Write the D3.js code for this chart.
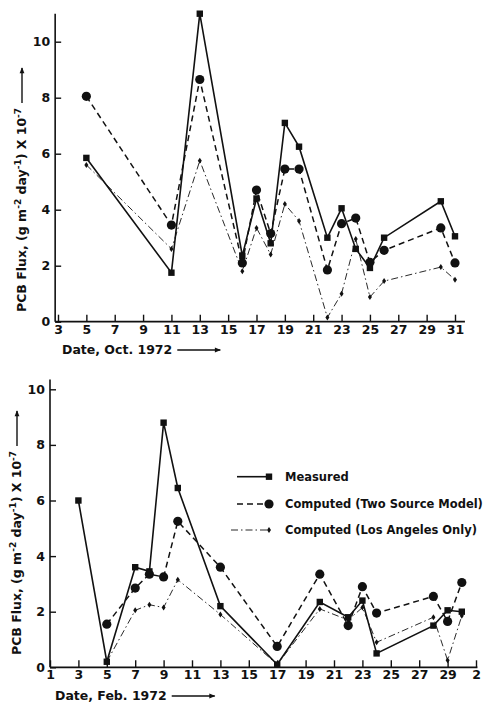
<!DOCTYPE html>
<html>
<head>
<meta charset="utf-8">
<script src="https://cdn.jsdelivr.net/npm/d3@7"></script>
<style>
  body { margin: 0; background: #fff; }
  svg { display: block; }
  .tick text { font-family: 'DejaVu Sans', sans-serif; font-size: 12.5px; font-weight: bold; fill: #111; }
  .tick line { stroke: #111; stroke-width: 1.4; }
  .lbl { font-family: 'DejaVu Sans', sans-serif; font-size: 12.5px; font-weight: bold; fill: #111; }
  .leg { font-family: 'DejaVu Sans', sans-serif; font-size: 11.5px; font-weight: bold; fill: #111; }
</style>
</head>
<body>
<div id="chart"></div>
<script>
// October 1972 data
const octDays = [5, 11, 13, 16, 17, 18, 19, 20, 22, 23, 24, 25, 26, 30, 31]
const octMeasured = [5.85, 1.75, 11.0, 2.35, 4.4, 2.8, 7.1, 6.25, 3.0, 4.05, 2.6, 1.92, 3.0, 4.3, 3.05]
const octTwoSource = [8.05, 3.45, 8.65, 2.1, 4.7, 3.15, 5.45, 5.45, 1.85, 3.5, 3.7, 2.12, 2.55, 3.35, 2.1]
const octLA = [5.6, 2.6, 5.75, 1.8, 3.35, 2.4, 4.2, 3.6, 0.15, 1.0, 2.95, 0.88, 1.45, 1.95, 1.5]
const octTicks = d3.range(3, 32, 2)

// February 1972 data (day 30 = Mar 1)
const febDays = [3, 5, 7, 8, 9, 10, 13, 17, 20, 22, 23, 24, 28, 29, 30]
const febMeasured = [6.0, 0.2, 3.6, 3.45, 8.8, 6.45, 2.2, 0.1, 2.35, 1.8, 2.4, 0.5, 1.5, 2.05, 2.0]
const febTwoSource = [null, 1.55, 2.85, 3.35, 3.25, 5.25, 3.6, 0.75, 3.35, 1.5, 2.9, 1.95, 2.55, 1.65, 3.05]
const febLA = [null, 0.2, 2.05, 2.25, 2.15, 3.15, 1.9, 0.1, 2.1, 1.7, 2.15, 0.9, 1.8, 0.25, 1.85]
const febTicks = d3.range(1, 32, 2)
const febTickLabels = ['1', '3', '5', '7', '9', '11', '13', '15', '17', '19', '21', '23', '25', '27', '29', '2']

const yTicks = [0, 2, 4, 6, 8, 10]
const legendLabels = ['Measured', 'Computed (Two Source Model)', 'Computed (Los Angeles Only)']

var width = 485, height = 703

var svg = d3.select('#chart')
    .append('svg')
        .attr('width', width)
        .attr('height', height)

svg.append('defs').append('marker')
    .attr('id', 'arrow')
    .attr('viewBox', '0 0 10 10')
    .attr('refX', 9).attr('refY', 5)
    .attr('markerWidth', 7).attr('markerHeight', 6)
    .attr('markerUnits', 'userSpaceOnUse')
    .attr('orient', 'auto')
    .append('path')
        .attr('d', 'M0,1 L10,5 L0,9 Z')
        .style('fill', '#111')

const styles = [
    {dash: null, width: 1.6, shape: 'square'},
    {dash: '6,4', width: 1.5, shape: 'circle'},
    {dash: '7,3,1.5,3', width: 0.9, shape: 'diamond'}
]

function drawMarker(g, shape, cx, cy){
    if(shape == 'square'){
        g.append('rect')
            .attr('x', cx - 3.2).attr('y', cy - 3.2)
            .attr('width', 6.4).attr('height', 6.4)
            .style('fill', '#111')
    } else if(shape == 'circle'){
        g.append('circle')
            .attr('cx', cx).attr('cy', cy).attr('r', 4.6)
            .style('fill', '#111')
    } else {
        g.append('path')
            .attr('d', 'M' + cx + ',' + (cy - 3) + 'L' + (cx + 2) + ',' + cy + 'L' + cx + ',' + (cy + 3) + 'L' + (cx - 2) + ',' + cy + 'Z')
            .style('fill', '#111')
    }
}

function drawPanel(opt){
    var x = d3.scaleLinear().domain(opt.xDomain).range(opt.xRange)
    var y = d3.scaleLinear().domain([0, 10]).range(opt.yRange)
    var g = svg.append('g')

    // axis lines
    g.append('line')
        .attr('x1', x(opt.xMin)).attr('x2', x(opt.xMin))
        .attr('y1', y(0)).attr('y2', y(opt.yTop))
        .style('stroke', '#111').style('stroke-width', 1.6)
    g.append('line')
        .attr('x1', x(opt.xMin)).attr('x2', x(opt.xMax))
        .attr('y1', y(0)).attr('y2', y(0))
        .style('stroke', '#111').style('stroke-width', 1.8)

    // y axis
    g.append('g')
        .attr('transform', 'translate(' + x(opt.xMin) + ',0)')
        .call(d3.axisLeft(y).tickValues(yTicks).tickSize(-6).tickPadding(5))
        .call(a => a.select('.domain').remove())

    // x axis
    g.append('g')
        .attr('transform', 'translate(0,' + y(0) + ')')
        .call(d3.axisBottom(x).tickValues(opt.ticks).tickSize(-7).tickPadding(3)
            .tickFormat((d, i) => opt.tickLabels ? opt.tickLabels[i] : d))
        .call(a => a.select('.domain').remove())

    // series
    opt.series.forEach(function(vals, k){
        var st = styles[k]
        var pts = opt.days.map((d, i) => [d, vals[i]]).filter(p => p[1] != null)
        g.append('path')
            .datum(pts)
            .attr('d', d3.line().x(p => x(p[0])).y(p => y(p[1])))
            .style('fill', 'none')
            .style('stroke', '#111')
            .style('stroke-width', st.width)
            .style('stroke-dasharray', st.dash)
        pts.forEach(p => drawMarker(g, st.shape, x(p[0]), y(p[1])))
    })

    // x axis title
    var xt = g.append('text')
        .classed('lbl', true)
        .attr('x', opt.xTitleX)
        .attr('y', opt.xTitleY)
        .text(opt.xTitle)
    var xl = xt.node().getComputedTextLength()
    g.append('line')
        .attr('x1', opt.xTitleX + xl + 5).attr('x2', opt.xTitleX + xl + 48)
        .attr('y1', opt.xTitleY - 4).attr('y2', opt.xTitleY - 4)
        .style('stroke', '#111').style('stroke-width', 1.4)
        .attr('marker-end', 'url(#arrow)')

    // y axis title
    var yt = g.append('text')
        .classed('lbl', true)
        .attr('transform', 'translate(' + opt.yTitleX + ',' + opt.yTitleY + ') rotate(-90)')
    yt.append('tspan').text('PCB Flux,  (g m')
    yt.append('tspan').attr('dy', -5).style('font-size', '9px').text('-2')
    yt.append('tspan').attr('dy', 5).text(' day')
    yt.append('tspan').attr('dy', -5).style('font-size', '9px').text('-1')
    yt.append('tspan').attr('dy', 5).text(') X 10')
    yt.append('tspan').attr('dy', -5).style('font-size', '9px').text('-7')
    var yl = yt.node().getComputedTextLength()
    g.append('line')
        .attr('x1', opt.yTitleX - 4).attr('x2', opt.yTitleX - 4)
        .attr('y1', opt.yTitleY - yl - 5).attr('y2', opt.yTitleY - yl - 40)
        .style('stroke', '#111').style('stroke-width', 1.4)
        .attr('marker-end', 'url(#arrow)')
}

drawPanel({
    xDomain: [3, 31], xRange: [58, 455], yRange: [321.7, 41.7],
    xMin: 2.8, xMax: 31.7, yTop: 11.0,
    ticks: octTicks, days: octDays,
    series: [octMeasured, octTwoSource, octLA],
    xTitle: 'Date,  Oct. 1972', xTitleX: 62, xTitleY: 354,
    yTitleX: 26, yTitleY: 312
})

drawPanel({
    xDomain: [1, 31], xRange: [50, 476], yRange: [667.3, 389.3],
    xMin: 1, xMax: 31.1, yTop: 10.35,
    ticks: febTicks, tickLabels: febTickLabels, days: febDays,
    series: [febMeasured, febTwoSource, febLA],
    xTitle: 'Date,  Feb. 1972', xTitleX: 55, xTitleY: 700,
    yTitleX: 21, yTitleY: 655
})

// legend
var leg = svg.append('g')
legendLabels.forEach(function(t, k){
    var st = styles[k]
    var ly = [476.7, 504, 530][k]
    leg.append('line')
        .attr('x1', k == 2 ? 231 : 237).attr('x2', 269)
        .attr('y1', ly).attr('y2', ly)
        .style('stroke', '#111')
        .style('stroke-width', st.width)
        .style('stroke-dasharray', st.dash)
    drawMarker(leg, st.shape, 269, ly)
    leg.append('text')
        .classed('leg', true)
        .attr('x', 285).attr('y', ly + 4)
        .text(t)
})
</script>
</body>
</html>
